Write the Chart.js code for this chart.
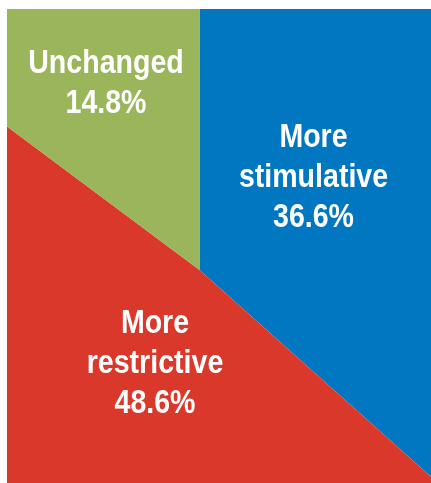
<!DOCTYPE html>
<html>
<head>
<meta charset="utf-8">
<script src="https://cdn.jsdelivr.net/npm/chart.js@4/dist/chart.umd.min.js"></script>
<style>
  html, body { margin: 0; padding: 0; background: #fff; }
  #frame { position: absolute; left: 7px; top: 9px; width: 424px; height: 474px; overflow: hidden; }
  #pie { display: block; }
</style>
</head>
<body>
<div id="frame"><canvas id="pie" width="424" height="474"></canvas></div>
<script>
const labels = ['More stimulative', 'More restrictive', 'Unchanged']
const shares = [36.6, 48.6, 14.8]
const colors = ['#0077c0', '#d9382a', '#9ab55a']

// text lines + offset of first baseline from the pie centre
const labelLines = [
  ['More', 'stimulative'],
  ['More', 'restrictive'],
  ['Unchanged']
]
const labelOffsets = [[114, -123], [-44.5, 63], [-93.5, -197]]

// condensed look: squeeze a regular bold face horizontally
const squeeze = 0.84

const sliceLabels = {
  id: 'sliceLabels',
  afterDatasetsDraw(chart) {
    const c = chart.ctx
    const meta = chart.getDatasetMeta(0)
    c.save()
    c.fillStyle = '#fff'
    c.textAlign = 'center'
    c.textBaseline = 'alphabetic'
    c.font = 'bold 34px "Liberation Sans", Arial, sans-serif'
    meta.data.forEach((arc, i) => {
      const lines = labelLines[i].concat([shares[i].toFixed(1) + '%'])
      const x = arc.x + labelOffsets[i][0]
      let y = arc.y + labelOffsets[i][1]
      lines.forEach(t => {
        c.save()
        c.translate(x, y)
        c.scale(squeeze, 1)
        c.fillText(t, 0, 0)
        c.restore()
        y += 40
      })
    })
    c.restore()
  }
}

new Chart(document.getElementById('pie'), {
  type: 'pie',
  data: {
    labels: labels,
    datasets: [{
      data: shares,
      backgroundColor: colors,
      borderWidth: 0,
      clip: false
    }]
  },
  options: {
    responsive: false,
    animation: false,
    devicePixelRatio: 1,
    radius: 700,
    layout: { padding: { top: 48, right: 39, left: 0, bottom: 0 } },
    plugins: {
      legend: { display: false },
      tooltip: { enabled: false }
    }
  },
  plugins: [sliceLabels]
})
</script>
</body>
</html>
